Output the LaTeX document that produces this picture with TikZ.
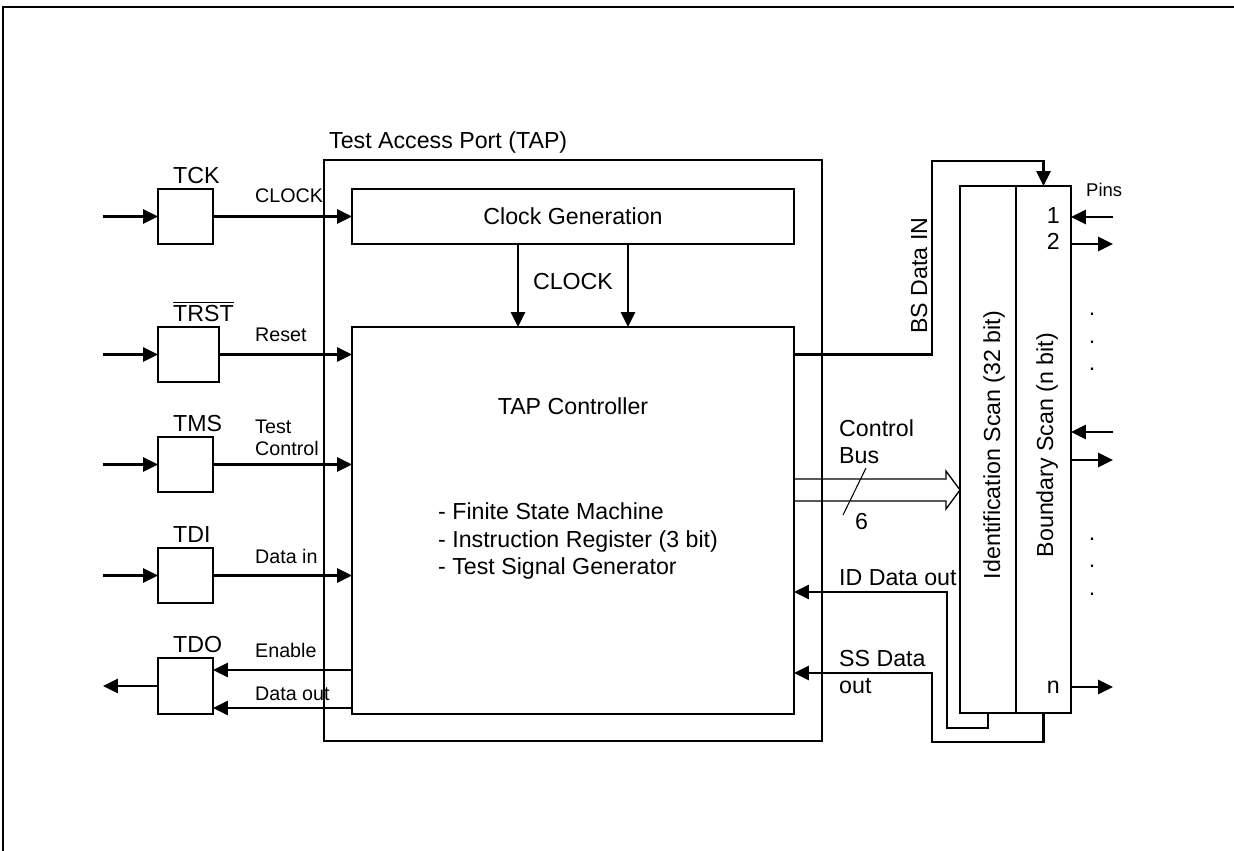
\documentclass[tikz,border=0pt]{standalone}
\usepackage{fontspec}
\setmainfont{Liberation Sans}
\usetikzlibrary{arrows.meta}

\begin{document}
\begin{tikzpicture}[x=0.02cm,y=-0.02cm,
  box/.style={draw,line width=0.75pt,inner sep=0pt,outer sep=0pt},
  sig/.style={line width=1.4pt,-{Triangle[length=8.5pt,width=8pt]}},
  big/.style={font=\fontsize{13.2}{15.8}\selectfont},
  small/.style={font=\fontsize{11.2}{13.4}\selectfont}]
  \useasboundingbox (0,0) rectangle (1234,851);
  \draw[line width=1pt] (3,851) -- (3,7) -- (1234,7);

  % TAP
  \node[box,minimum width=9.96cm,minimum height=11.62cm] (tap) at (573,450.5) {};
  \node[big,anchor=base west] (taplbl) at (323,149) {Test Access Port (TAP)};
  \node[box,big,minimum width=8.84cm,minimum height=1.1cm] (clkgen) at (573,216.5) {Clock Generation};
  \node[box,minimum width=8.84cm,minimum height=7.74cm] (ctrl) at (573,520.5) {};
  \node[big,anchor=base] (ctrltitle) at (573,414) {TAP Controller};
  \node[big,anchor=base west] (fsm) at (432,519) {- Finite State Machine};
  \node[big,anchor=base west] (ir) at (432,547) {- Instruction Register (3 bit)};
  \node[big,anchor=base west] (tsg) at (432,574) {- Test Signal Generator};
  \draw[sig] ([xshift=-1.1cm]clkgen.south) -- ([xshift=-1.1cm]ctrl.north);
  \draw[sig] ([xshift=1.1cm]clkgen.south) -- ([xshift=1.1cm]ctrl.north);
  \node[big,anchor=base] (clklbl) at (573,290) {CLOCK};

  % pins
  \node[box,minimum width=1.1cm,minimum height=1.1cm] (tck) at (185.5,216.5) {};
  \node[box,minimum width=1.22cm,minimum height=1.1cm] (trst) at (188.5,354.5) {};
  \node[box,minimum width=1.1cm,minimum height=1.1cm] (tms) at (185.5,464.5) {};
  \node[box,minimum width=1.1cm,minimum height=1.1cm] (tdi) at (185.5,575.5) {};
  \node[box,minimum width=1.1cm,minimum height=1.12cm] (tdo) at (185.5,686) {};
  \node[big,anchor=base west] (tcklbl) at (167,184) {TCK};
  \node[big,anchor=base west] (trstlbl) at (167,321) {$\overline{\mbox{TRST}}$};
  \node[big,anchor=base west] (tmslbl) at (167,431) {TMS};
  \node[big,anchor=base west] (tdilbl) at (167,542) {TDI};
  \node[big,anchor=base west] (tdolbl) at (167,652) {TDO};

  \coordinate (inx) at (103,0);
  \foreach \p in {tck,trst,tms,tdi}
    \draw[sig] (\p.west -| inx) -- (\p.west);
  \draw[sig] (tdo.west) -- (tdo.west -| inx);
  \draw[sig] (tck.east) -- (clkgen.west);
  \foreach \p in {trst,tms,tdi}
    \draw[sig] (\p.east) -- (\p.east -| ctrl.west);
  \coordinate (eny) at (0,670);
  \coordinate (douty) at (0,708);
  \draw[sig] (ctrl.west |- eny) -- (tdo.east |- eny);
  \draw[sig] (ctrl.west |- douty) -- (tdo.east |- douty);

  \node[small,anchor=base west] (l1) at (249,203) {CLOCK};
  \node[small,anchor=base west] (l2) at (249,341) {Reset};
  \node[small,anchor=base west] (l3) at (249,433) {Test};
  \node[small,anchor=base west] (l4) at (249,455) {Control};
  \node[small,anchor=base west] (l5) at (249,563) {Data in};
  \node[small,anchor=base west] (l6) at (249,657) {Enable};
  \node[small,anchor=base west] (l7) at (249,700) {Data out};

  % scan chains
  \node[box,minimum width=1.12cm,minimum height=10.54cm] (idscan) at (988,449.5) {};
  \node[box,minimum width=1.1cm,minimum height=10.54cm] (bscan) at (1043.5,449.5) {};
  \node[big,rotate=90,anchor=base] (idlbl) at (1000,445) {Identification Scan (32 bit)};
  \node[big,rotate=90,anchor=base] (bslbl) at (1053,445) {Boundary Scan (n bit)};

  \coordinate (bsx) at (932,161);
  \draw[sig] (ctrl.east |- trst) -- (bsx |- trst) -- (bsx) -| (bscan.north);
  \node[big,rotate=90,anchor=base] (bsin) at (927,275.5) {BS Data IN};

  \coordinate (busy) at (0,490);
  \draw[line width=0.75pt] (ctrl.east |- busy) ++(0,-11) -- ++(152,0) -- ++(0,-8)
    -- (idscan.west |- busy) -- ++(-14,19) -- ++(0,-8) -- ++(-152,0);
  \draw[line width=0.6pt] (866,468) -- (843,515);
  \node[big,anchor=base west] (bus1) at (833,436) {Control};
  \node[big,anchor=base west] (bus2) at (833,463) {Bus};
  \node[big,anchor=base west] (buswd) at (849,529) {6};

  \coordinate (idx) at (947,728);
  \coordinate (idy) at (0,592);
  \draw[sig] (idscan.south) |- (idx) |- (ctrl.east |- idy);
  \node[big,anchor=base west] (idout) at (833,585) {ID Data out};
  \coordinate (ssx) at (932,742);
  \coordinate (ssy) at (0,673);
  \draw[sig] (bscan.south) |- (ssx) |- (ctrl.east |- ssy);
  \node[big,anchor=base west] (ss1) at (833,666) {SS Data};
  \node[big,anchor=base west] (ss2) at (833,693) {out};

  % pins of the boundary scan
  \node[font=\fontsize{10.5}{12}\selectfont,anchor=base west] (pins) at (1080,197) {Pins};
  \coordinate (pinx) at (1113,0);
  \foreach \y in {217,432}
    \draw[sig] (pinx |- 0,\y) -- (bscan.east |- 0,\y);
  \foreach \y in {244,460,687}
    \draw[sig] (bscan.east |- 0,\y) -- (pinx |- 0,\y);
  \node[big,anchor=base east] (pin1) at (1066,224) {1};
  \node[big,anchor=base east] (pin2) at (1066,250) {2};
  \node[big,anchor=base east] (pinn) at (1066,693) {n};
  \foreach \y in {316,343,370,540,567,595}
    \node[big,anchor=base] (dot\y) at (1092,\y) {.};
\end{tikzpicture}
\end{document}
